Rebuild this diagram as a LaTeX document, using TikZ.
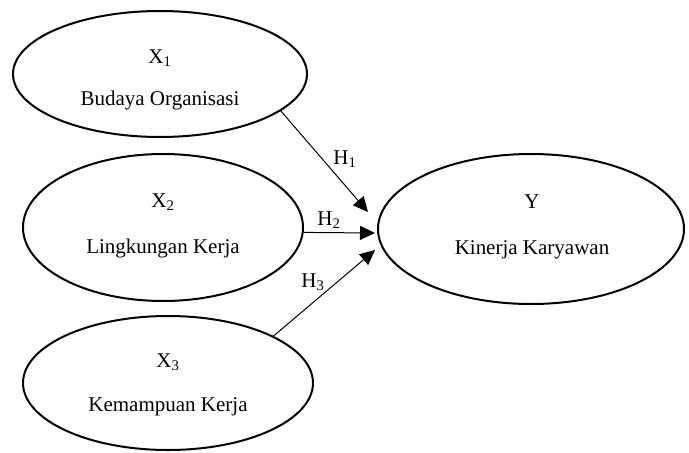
\documentclass[tikz,border=0pt]{standalone}
\usepackage{fontspec}
\setmainfont{Liberation Serif}
\usetikzlibrary{arrows.meta,shapes.geometric}
\begin{document}
\begin{tikzpicture}[x=1pt,y=-1pt,
  var/.style={draw,ellipse,line width=2pt,inner sep=0pt},
  txt/.style={inner sep=0pt,font=\fontsize{21}{24}\selectfont},
  link/.style={line width=1pt,-{Triangle[length=15pt,width=14pt]}},
  hlab/.style={inner sep=0pt,font=\fontsize{21}{24}\selectfont}]
\useasboundingbox (0,0) rectangle (689,453);
\node[var,minimum width=294pt,minimum height=126pt] (x1) at (160,74) {};
\node[var,minimum width=280pt,minimum height=147pt] (x2) at (163,227.5) {};
\node[var,minimum width=290pt,minimum height=134pt] (x3) at (168,383) {};
\node[var,minimum width=306pt,minimum height=150pt] (y) at (531,229) {};
\node[txt] (x1a) at (160,58) {X\textsubscript{1}};
\node[txt] (x1b) at (160,100) {Budaya Organisasi};
\node[txt] (x2a) at (163,202) {X\textsubscript{2}};
\node[txt] (x2b) at (163,248) {Lingkungan Kerja};
\node[txt] (x3a) at (168,362) {X\textsubscript{3}};
\node[txt] (x3b) at (168,407) {Kemampuan Kerja};
\node[txt] (ya) at (532,202) {Y};
\node[txt] (yb) at (532,250) {Kinerja Karyawan};
\coordinate (t1) at (368,212);
\coordinate (t2) at (375,233);
\coordinate (t3) at (375,250);
\draw[link] (x1.-17.5) -- (t1);
\draw[link] (x2.-2) -- (t2);
\draw[link] (x3.24) -- (t3);
\node[hlab] (h1) at (345,159) {H\textsubscript{1}};
\node[hlab] (h2) at (329,220) {H\textsubscript{2}};
\node[hlab] (h3) at (313,282) {H\textsubscript{3}};
\end{tikzpicture}
\end{document}
